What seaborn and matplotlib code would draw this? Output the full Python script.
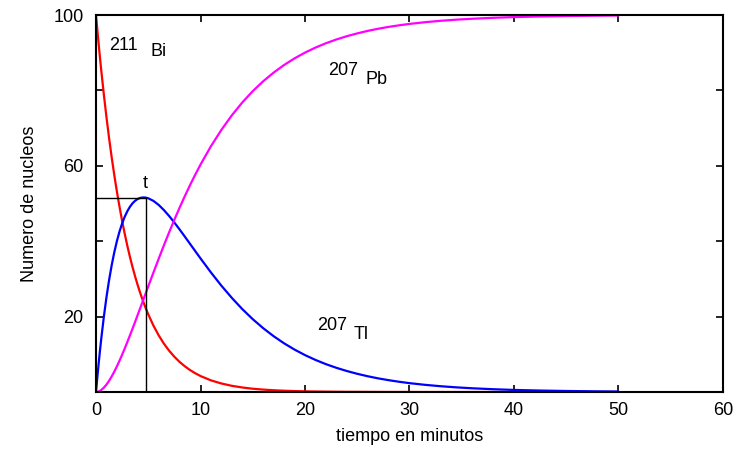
import numpy as np
import pandas as pd
import matplotlib
matplotlib.use("Agg")
import matplotlib.pyplot as plt
import seaborn as sns

# values (minutes, number of nuclei)
tiempo = [0, 0.125, 0.25, 0.375, 0.5, 0.75, 1, 1.25, 1.5, 1.75, 2, 2.25, 2.5, 2.75,
          3, 3.25, 3.5, 3.75, 4, 4.25, 4.5, 4.75, 5, 5.5, 6, 6.5, 7, 7.5, 8, 8.5,
          9, 9.5, 10, 11, 12, 13, 14, 15, 16, 17, 18, 19, 20, 21, 22, 23, 24, 25,
          26, 27, 28, 29, 30, 31.5, 33, 34.5, 36, 38, 40, 42.5, 45, 47.5, 50]
bi211 = [100, 96.13, 92.40, 88.82, 85.39, 78.90, 72.91, 67.37, 62.25, 57.52, 53.15,
         49.12, 45.38, 41.94, 38.75, 35.81, 33.09, 30.58, 28.25, 26.11, 24.12, 22.29,
         20.60, 17.59, 15.02, 12.82, 10.95, 9.35, 7.98, 6.82, 5.82, 4.97, 4.24, 3.09,
         2.26, 1.64, 1.20, 0.87, 0.64, 0.47, 0.34, 0.25, 0.18, 0.13, 0.10, 0.07, 0.05,
         0.04, 0.03, 0.02, 0.01, 0.01, 0.01, 0, 0, 0, 0, 0, 0, 0, 0, 0, 0]
tl207 = [0, 3.84, 7.46, 10.87, 14.08, 19.95, 25.12, 29.66, 33.63, 37.07, 40.04,
         42.57, 44.72, 46.51, 47.97, 49.15, 50.07, 50.75, 51.22, 51.50, 51.61, 51.57,
         51.39, 50.69, 49.62, 48.25, 46.68, 44.95, 43.11, 41.22, 39.29, 37.36, 35.44,
         31.71, 28.20, 24.96, 21.99, 19.32, 16.93, 14.80, 12.91, 11.25, 9.79, 8.51,
         7.39, 6.42, 5.57, 4.83, 4.18, 3.62, 3.14, 2.72, 2.35, 1.90, 1.53, 1.23, 0.99,
         0.74, 0.55, 0.39, 0.27, 0.19, 0.13]
pb207 = [0, 0.03, 0.14, 0.31, 0.53, 1.15, 1.97, 2.97, 4.12, 5.41, 6.81, 8.31, 9.90,
         11.55, 13.28, 15.04, 16.84, 18.67, 20.53, 22.39, 24.27, 26.14, 28.01, 31.72,
         35.36, 38.93, 42.37, 45.70, 48.91, 51.96, 54.89, 57.67, 60.32, 65.20, 69.54,
         73.40, 76.81, 79.81, 82.43, 84.73, 86.75, 88.50, 90.03, 91.36, 92.51, 93.51,
         94.38, 95.13, 95.79, 96.36, 96.85, 97.27, 97.64, 98.10, 98.47, 98.77, 99.01,
         99.26, 99.45, 99.61, 99.73, 99.81, 99.87]

# maximum of Tl marked with "t"
t_max = 4.75
n_max = 51.4

x_ticks = [0, 10, 20, 30, 40, 50, 60]
y_ticks = [0, 20, 40, 60, 80, 100]
y_labels = ["", "20", "", "60", "", "100"]

sns.set_theme(style="ticks")
plt.rcParams['font.family'] = ['Liberation Sans', 'DejaVu Sans']
plt.rcParams['font.size'] = 13
for k in ['text.color', 'axes.labelcolor', 'xtick.color', 'ytick.color', 'axes.edgecolor']:
    plt.rcParams[k] = 'black'

df = pd.DataFrame({"t": tiempo, "Bi": bi211, "Tl": tl207, "Pb": pb207})

fig = plt.figure(figsize=(7.34, 4.51), dpi=100)
ax = fig.add_axes([0.1308, 0.1308, 0.8542, 0.8359])

sns.lineplot(data=df, x="t", y="Bi", color="#ff0000", lw=1.6, ax=ax)
sns.lineplot(data=df, x="t", y="Tl", color="#0000ff", lw=1.6, ax=ax)
sns.lineplot(data=df, x="t", y="Pb", color="#ff00ff", lw=1.6, ax=ax)

# marker lines to the maximum
ax.plot([0, t_max], [n_max, n_max], color="black", lw=1)
ax.plot([t_max, t_max], [0, n_max], color="black", lw=1)
ax.text(t_max, 55.4, "t", ha="center", va="center", fontsize=13)

# isotope labels
ax.text(1.3, 92.0, "211", ha="left", va="center", fontsize=13)
ax.text(5.2, 90.4, "Bi", ha="left", va="center", fontsize=13)
ax.text(22.2, 85.4, "207", ha="left", va="center", fontsize=13)
ax.text(25.8, 83.0, "Pb", ha="left", va="center", fontsize=13)
ax.text(21.2, 17.6, "207", ha="left", va="center", fontsize=13)
ax.text(24.7, 15.2, "Tl", ha="left", va="center", fontsize=13)

ax.set_xlim(0, 60)
ax.set_ylim(0, 100)
ax.set_xticks(x_ticks)
ax.set_yticks(y_ticks)
ax.set_yticklabels(y_labels)
ax.tick_params(direction="in", length=5, width=1.2, top=True, right=True,
               labelsize=13, color="black")
ax.tick_params(axis="x", pad=7)
ax.tick_params(axis="y", pad=9)
for s in ax.spines.values():
    s.set_linewidth(1.5)
    s.set_color("black")

ax.set_xlabel("tiempo en minutos", fontsize=13, labelpad=7)
ax.set_ylabel("Numero de nucleos", fontsize=13, labelpad=11)

fig.savefig("out.png", dpi=100)
